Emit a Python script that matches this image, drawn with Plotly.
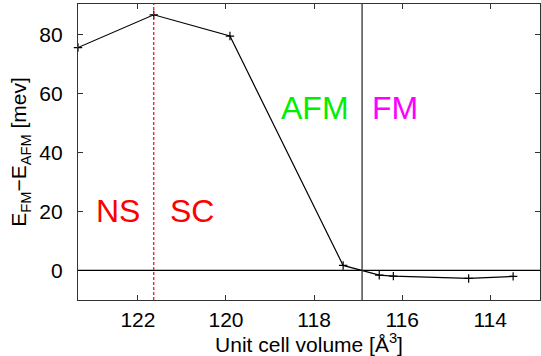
import plotly.graph_objects as go

volume = [123.36, 121.64, 119.91, 117.34, 116.52, 116.2, 114.49, 113.48]
energy_diff = [75.5, 86.6, 79.4, 1.7, -1.6, -1.9, -2.7, -2.0]
x_ticks = [122, 120, 118, 116, 114]
y_ticks = [0, 20, 40, 60, 80]
ns_sc_boundary = 121.64
afm_fm_boundary = 116.91

font = "Liberation Sans, Arial, sans-serif"

fig = go.Figure()
fig.add_trace(go.Scatter(
    x=volume, y=energy_diff, mode="lines+markers",
    line=dict(color="black", width=1.2),
    marker=dict(symbol="cross-thin", size=6, line=dict(color="black", width=1.2)),
    showlegend=False, cliponaxis=False,
))

fig.add_shape(type="line", xref="paper", yref="y", x0=0, x1=1, y0=0, y1=0,
              line=dict(color="black", width=1.2))
fig.add_shape(type="line", xref="x", yref="paper", x0=ns_sc_boundary, x1=ns_sc_boundary,
              y0=0, y1=1, line=dict(color="red", width=1.2, dash="3px,2px"))
fig.add_shape(type="line", xref="x", yref="paper", x0=afm_fm_boundary, x1=afm_fm_boundary,
              y0=0, y1=1, line=dict(color="#222", width=1.2))

labels = [("NS", 122.46, 20, "red"), ("SC", 120.78, 20, "red"),
          ("AFM", 117.97, 55, "#00ee00"), ("FM", 116.17, 55, "magenta")]
for t, x, y, c in labels:
    fig.add_annotation(x=x, y=y, text=t, showarrow=False,
                       font=dict(family=font, size=32, color=c))

fig.update_layout(
    width=541, height=356,
    margin=dict(l=78, r=1, t=4, b=56),
    paper_bgcolor="white", plot_bgcolor="white",
    font=dict(family=font, size=22, color="black"),
)
fig.update_xaxes(
    range=[123.36, 112.87], tickvals=x_ticks, ticks="inside", ticklen=5,
    showgrid=False, zeroline=False, showline=True, linecolor="#333", linewidth=1.2,
    mirror="allticks", tickcolor="#333", ticklabelstandoff=1,
    title=dict(text="Unit cell volume [Å<sup>3</sup>]", font=dict(size=21), standoff=3),
    tickfont=dict(size=21),
)
fig.update_yaxes(
    range=[-10, 90.25], tickvals=y_ticks, ticks="inside", ticklen=5,
    showgrid=False, zeroline=False, showline=True, linecolor="#333", linewidth=1.2,
    mirror="allticks", tickcolor="#333", ticklabelstandoff=10,
    title=dict(text="E<sub>FM</sub>−E<sub>AFM</sub> [mev]", font=dict(size=21), standoff=6),
    tickfont=dict(size=21),
)

fig.write_html("out.html")
